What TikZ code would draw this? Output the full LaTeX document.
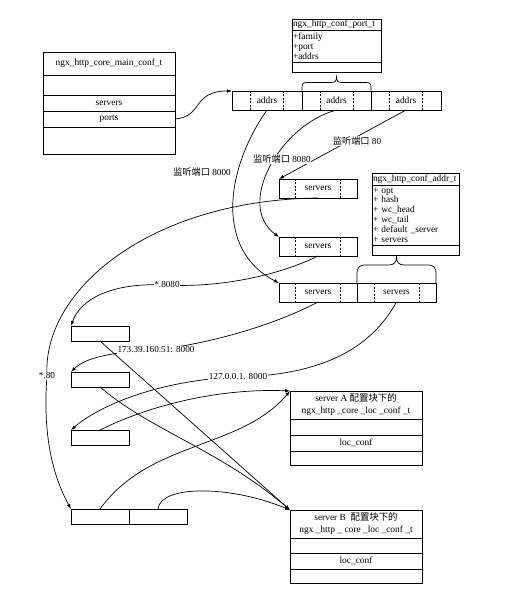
\documentclass[tikz,border=0pt]{standalone}
\usepackage{fontspec}
\setmainfont{Liberation Serif}
\newfontfamily\cjk{Noto Sans CJK SC}
\usetikzlibrary{arrows.meta,calc}
\pgfdeclarelayer{bg}
\pgfsetlayers{bg,main}
\begin{document}
\begin{tikzpicture}[x=1pt,y=-1pt,
  cell/.style={draw, line width=0.7pt, inner sep=0pt, outer sep=0pt, anchor=north west,
    font=\fontsize{9.4}{9.8}\selectfont, align=center},
  fields/.style={cell, align=left},
  dsh/.style={dashed, line width=0.5pt, dash pattern=on 2pt off 1.5pt},
  conn/.style={line width=0.7pt, -{Latex[length=5pt,width=3.6pt]}},
  lbl/.style={fill=white, inner sep=0.6pt, font=\fontsize{9.2}{10}\selectfont},
  brc/.style={line width=0.7pt}
]
\useasboundingbox (0,0) rectangle (515,593);

% ngx_http_core_main_conf_t
\node[cell, minimum width=132pt, minimum height=23pt] (m0) at (43,52) {ngx\_http\_core\_main\_conf\_t};
\node[cell, minimum width=132pt, minimum height=20pt] (m1) at (43,75) {};
\node[cell, minimum width=132pt, minimum height=16pt] (m2) at (43,95) {servers};
\node[cell, minimum width=132pt, minimum height=16pt] (m3) at (43,111) {ports};
\node[cell, minimum width=132pt, minimum height=27pt] (m4) at (43,127) {};

% ngx_http_conf_port_t
\node[fields, minimum width=89pt, minimum height=11pt, text width=87pt] (p0) at (292,19) {ngx\_http\_conf\_port\_t};
\node[fields, minimum width=89pt, minimum height=32pt, text width=87pt] (pf) at (292,30) {+family\\+port\\+addrs};
\node[cell, minimum width=89pt, minimum height=10pt] (pe) at (292,62) {};

% addrs array
\node[cell, minimum width=70pt, minimum height=19pt] (a1) at (232,91) {addrs};
\node[cell, minimum width=69pt, minimum height=19pt] (a2) at (302,91) {addrs};
\node[cell, minimum width=70pt, minimum height=19pt] (a3) at (371,91) {addrs};
\foreach \n in {a1,a2,a3}{
  \draw[dsh] ([xshift=-16.5pt]\n.north) -- ([xshift=-16.5pt]\n.south);
  \draw[dsh] ([xshift=16.5pt]\n.north) -- ([xshift=16.5pt]\n.south);
}
% brace over a2
\draw[brc] (a2.north west) -- (302,88) .. controls (302,83.5) and (303,82.5) .. (307,82.5) -- (331,82.5)
  .. controls (335,82.5) and (336.5,81) .. (336.5,77) .. controls (336.5,81) and (338,82.5) .. (342,82.5)
  -- (366,82.5) .. controls (370,82.5) and (371,83.5) .. (371,88) -- (a2.north east);

% servers arrays
\node[cell, minimum width=78pt, minimum height=19pt] (s1) at (279,179) {servers};
\node[cell, minimum width=78pt, minimum height=19pt] (s2) at (279,237) {servers};
\node[cell, minimum width=78pt, minimum height=19pt] (s3a) at (279,283) {servers};
\node[cell, minimum width=79pt, minimum height=19pt] (s3b) at (357,283) {servers};
\foreach \n in {s1,s2,s3a,s3b}{
  \draw[dsh] ([xshift=-22.5pt]\n.north) -- ([xshift=-22.5pt]\n.south);
  \draw[dsh] ([xshift=22.5pt]\n.north) -- ([xshift=22.5pt]\n.south);
}
% brace over s3b
\draw[brc] (s3b.north west) -- (357,275) .. controls (357,267) and (359,265) .. (366,265) -- (389,265)
  .. controls (394,265) and (396.5,262) .. (396.5,257) .. controls (396.5,262) and (399,265) .. (404,265)
  -- (427,265) .. controls (434,265) and (436,267) .. (436,275) -- (s3b.north east);

% ngx_http_conf_addr_t
\node[fields, minimum width=87pt, minimum height=12pt, text width=85pt] (d0) at (372,173) {ngx\_http\_conf\_addr\_t};
\node[fields, minimum width=87pt, minimum height=60pt, text width=85pt] (df) at (372,185)
  {+ opt\\+ hash\\+ wc\_head\\+ wc\_tail\\+ default \_server\\+ servers};
\node[cell, minimum width=87pt, minimum height=10pt] (de) at (372,245) {};

% left small boxes
\node[cell, minimum width=58pt, minimum height=15pt] (b1) at (71,326) {};
\node[cell, minimum width=58pt, minimum height=15pt] (b2) at (71,372) {};
\node[cell, minimum width=58pt, minimum height=15pt] (b3) at (71,430) {};
\node[cell, minimum width=58pt, minimum height=15pt] (q1) at (71,509) {};
\node[cell, minimum width=58pt, minimum height=15pt] (q2) at (129,509) {};

% server A
\node[cell, minimum width=132pt, minimum height=28pt, font=\fontsize{9.4}{12}\selectfont] (sA) at (290,391)
  {server A {\cjk 配置块下的}\\ngx\_http \_core \_loc \_conf \_t};
\node[cell, minimum width=132pt, minimum height=16pt] (sA1) at (290,419) {};
\node[cell, minimum width=132pt, minimum height=16pt] (sA2) at (290,435) {loc\_conf};
\node[cell, minimum width=132pt, minimum height=14pt] (sA3) at (290,451) {};

% server B
\node[cell, minimum width=132pt, minimum height=28pt, font=\fontsize{9.4}{12}\selectfont] (sB) at (290,510)
  {server B\ \ {\cjk 配置块下的}\\ngx \_http \_ core \_loc \_conf \_t};
\node[cell, minimum width=132pt, minimum height=15pt] (sB1) at (290,538) {};
\node[cell, minimum width=132pt, minimum height=16pt] (sB2) at (290,553) {loc\_conf};
\node[cell, minimum width=132pt, minimum height=14pt] (sB3) at (290,569) {};

% labels
\node[lbl] (l80a) at (357,141) {{\cjk 监听端口} 80};
\node[lbl] (l8080a) at (282,159) {{\cjk 监听端口} 8080};
\node[lbl] (l8000a) at (202,172) {{\cjk 监听端口} 8000};
\node[lbl] (l80) at (47,376) {*.80};
\node[lbl] (l8080) at (167,285) {*.8080};
\node[lbl] (l173) at (156,350) {173.39.160.51: 8000};
\node[lbl] (l127) at (238,377) {127.0.0.1. 8000};

\begin{pgfonlayer}{bg}
\draw[conn] (m3.east) .. controls +(28,-2) and +(-40,0) .. (a1.north west);
\draw[conn] (a1.south) .. controls (225,170) and (215,250) .. (s3a.north west);
\draw[conn] (a2.south) .. controls (280,125) and (235,205) .. (s2.north west);
\draw[conn] (a3.south) -- (s1.north west);
\draw[conn] (s1.south) .. controls (150,200) and (42,290) .. (l80.center)
  .. controls (42,440) and (55,480) .. (q1.north west);
\draw[conn] (s2.south) .. controls (280,275) and (220,288) .. (l8080.center)
  .. controls (110,282) and (80,300) .. (b1.north west);
\draw[conn] (s3a.south) .. controls (280,322) and (220,342) .. (l173.center)
  .. controls (110,352) and (85,358) .. (b2.north west);
\draw[conn] (s3b.south) .. controls (370,350) and (320,375) .. (l127.center)
  .. controls (160,380) and (100,405) .. (b3.north west);
\draw[conn] (b1.south) -- (sB.north west);
\draw[conn] (b2.south) .. controls (150,430) and (220,450) .. (sB.north west);
\draw[conn] (b3.north) .. controls (150,405) and (220,388) .. (sA.north west);
\draw[conn] (q1.north) .. controls (150,440) and (240,450) .. (sA.north west);
\draw[conn] (q2.north) .. controls (160,485) and (230,485) .. (sB.north west);
\end{pgfonlayer}
\end{tikzpicture}
\end{document}
